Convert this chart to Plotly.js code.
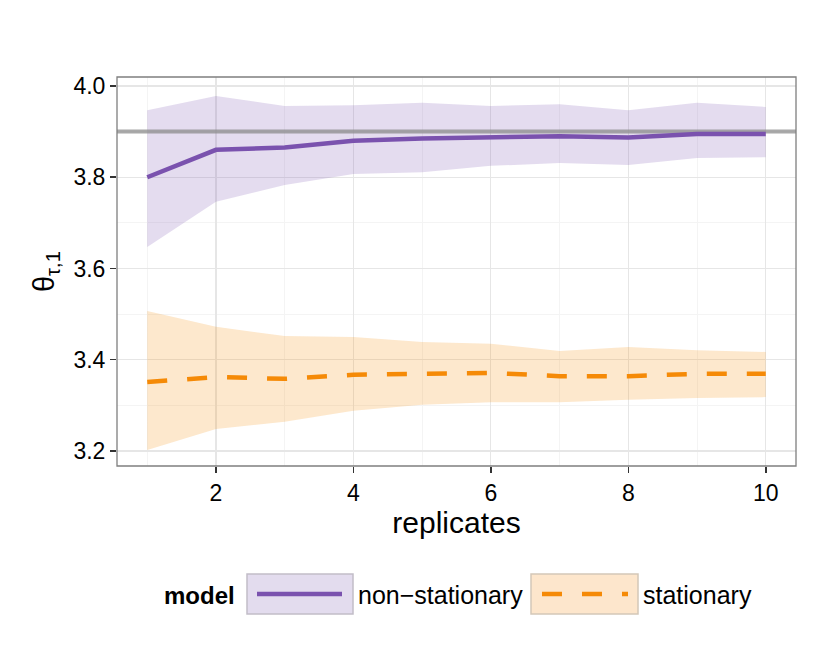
<!DOCTYPE html>
<html>
<head>
<meta charset="utf-8">
<script src="https://cdn.plot.ly/plotly-3.0.1.min.js"></script>
<style>
  html, body { margin: 0; padding: 0; background: #fff; }
  #plot { width: 830px; height: 664px; }
</style>
</head>
<body>
<div id="plot"></div>
<script>
const replicates = [1, 2, 3, 4, 5, 6, 7, 8, 9, 10];

const nonStatMean = [3.800, 3.860, 3.865, 3.880, 3.885, 3.887, 3.890, 3.887, 3.895, 3.895];
const nonStatUpper = [3.947, 3.978, 3.956, 3.958, 3.963, 3.956, 3.960, 3.947, 3.963, 3.954];
const nonStatLower = [3.647, 3.746, 3.783, 3.807, 3.811, 3.825, 3.831, 3.827, 3.842, 3.844];

const statMean = [3.351, 3.362, 3.358, 3.367, 3.369, 3.371, 3.364, 3.364, 3.369, 3.369];
const statUpper = [3.507, 3.472, 3.452, 3.450, 3.439, 3.435, 3.419, 3.428, 3.421, 3.417];
const statLower = [3.202, 3.248, 3.264, 3.288, 3.301, 3.307, 3.307, 3.312, 3.316, 3.318];

const trueValue = 3.9;

const PURPLE = '#7a52ae';
const PURPLE_FILL = 'rgba(122,82,174,0.2)';
const ORANGE = '#f58a07';
const ORANGE_FILL = 'rgba(245,138,7,0.2)';

// plot area in pixels, used to place the hand-made legend
const M = { l: 117, r: 34, t: 77, b: 198 };
const W = 830, H = 664;
const px = x => (x - M.l) / (W - M.l - M.r);
const py = y => (H - M.b - y) / (H - M.t - M.b);

const band = (upper, lower, fill) => ({
    x: replicates.concat(replicates.slice().reverse()),
    y: upper.concat(lower.slice().reverse()),
    type: 'scatter', mode: 'lines', fill: 'toself',
    fillcolor: fill, line: { width: 0 }, hoverinfo: 'skip', showlegend: false
});

const traces = [
    band(nonStatUpper, nonStatLower, PURPLE_FILL),
    band(statUpper, statLower, ORANGE_FILL),
    {
        x: [0.5, 10.5], y: [trueValue, trueValue],
        type: 'scatter', mode: 'lines',
        line: { color: 'rgba(140,140,140,0.75)', width: 4 }, showlegend: false
    },
    {
        x: replicates, y: nonStatMean, type: 'scatter', mode: 'lines',
        line: { color: PURPLE, width: 4.5 }, showlegend: false
    },
    {
        x: replicates, y: statMean, type: 'scatter', mode: 'lines',
        line: { color: ORANGE, width: 4.5, dash: '20px,20px' }, showlegend: false
    }
];

const fontFam = 'Liberation Sans, Arial, sans-serif';

const layout = {
    width: W, height: H,
    margin: M,
    paper_bgcolor: '#fff',
    plot_bgcolor: '#fff',
    font: { family: fontFam, color: '#000', size: 23 },
    showlegend: false,
    xaxis: {
        range: [0.56, 10.44],
        tickvals: [2, 4, 6, 8, 10],
        ticks: 'outside', ticklen: 6, tickwidth: 1.5, tickcolor: '#333',
        gridcolor: '#e6e6e6', gridwidth: 1.2,
        minor: { tickvals: [1, 3, 5, 7, 9], showgrid: true, gridcolor: '#f4f4f4', gridwidth: 1, ticks: '' },
        zeroline: false,
        showline: false,
        tickfont: { size: 23 },
        title: { text: 'replicates', font: { size: 30 }, standoff: 4 }
    },
    yaxis: {
        range: [3.167, 4.0197],
        tickvals: [3.2, 3.4, 3.6, 3.8, 4.0],
        ticktext: ['3.2', '3.4', '3.6', '3.8', '4.0'],
        ticks: 'outside', ticklen: 6, tickwidth: 1.5, tickcolor: '#333',
        gridcolor: '#e6e6e6', gridwidth: 1.2,
        minor: { tickvals: [3.3, 3.5, 3.7, 3.9], showgrid: true, gridcolor: '#f4f4f4', gridwidth: 1, ticks: '' },
        zeroline: false,
        showline: false,
        tickfont: { size: 23 },
        title: { text: 'θ<sub>τ,1</sub>', font: { size: 29 }, standoff: 10 }
    },
    shapes: [
        // panel border
        { type: 'rect', xref: 'paper', yref: 'paper', x0: 0, x1: 1, y0: 0, y1: 1,
          line: { color: '#7f7f7f', width: 1.3 }, layer: 'above' },
        // legend keys
        { type: 'rect', xref: 'paper', yref: 'paper',
          x0: px(247), x1: px(353), y0: py(614), y1: py(574),
          fillcolor: '#e3dcee', line: { color: '#c2bdc8', width: 1.5 } },
        { type: 'line', xref: 'paper', yref: 'paper',
          x0: px(257), x1: px(342), y0: py(594), y1: py(594),
          line: { color: PURPLE, width: 4.5 } },
        { type: 'rect', xref: 'paper', yref: 'paper',
          x0: px(531), x1: px(638), y0: py(614), y1: py(574),
          fillcolor: '#fde6cc', line: { color: '#d4c7b8', width: 1.5 } },
        { type: 'line', xref: 'paper', yref: 'paper',
          x0: px(542), x1: px(628), y0: py(594), y1: py(594),
          line: { color: ORANGE, width: 4.5, dash: '20px,20px' } }
    ],
    annotations: [
        { xref: 'paper', yref: 'paper', x: px(237), y: py(595), xanchor: 'right', yanchor: 'middle',
          text: '<b>model</b>', showarrow: false, font: { size: 24 } },
        { xref: 'paper', yref: 'paper', x: px(356), y: py(595), xanchor: 'left', yanchor: 'middle',
          text: 'non\u2212stationary', showarrow: false, font: { size: 25 } },
        { xref: 'paper', yref: 'paper', x: px(641), y: py(595), xanchor: 'left', yanchor: 'middle',
          text: 'stationary', showarrow: false, font: { size: 25 } }
    ]
};

Plotly.newPlot('plot', traces, layout, { displayModeBar: false, staticPlot: true });
</script>
</body>
</html>
